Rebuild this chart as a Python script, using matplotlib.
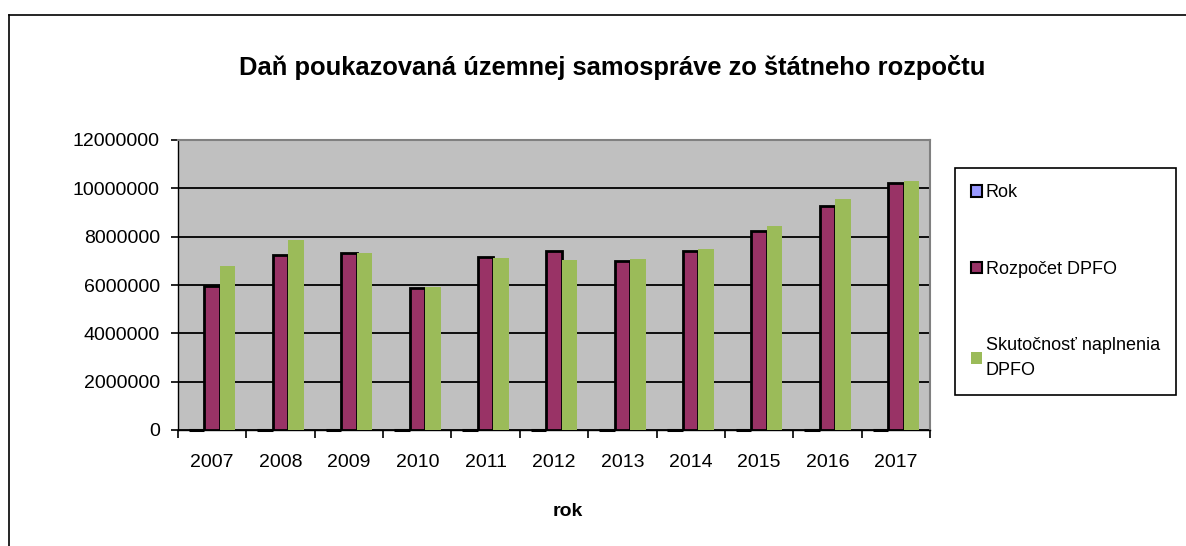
import numpy as np
import matplotlib
matplotlib.use("Agg")
import matplotlib.pyplot as plt
from matplotlib.lines import Line2D
from matplotlib.patches import Patch

plt.rcParams['font.family'] = ['Liberation Sans', 'DejaVu Sans']

# Data
roky = ['2007', '2008', '2009', '2010', '2011', '2012', '2013', '2014', '2015', '2016', '2017']
rok = [2007, 2008, 2009, 2010, 2011, 2012, 2013, 2014, 2015, 2016, 2017]
rozpocet = [5950000, 7230000, 7340000, 5880000, 7170000, 7390000, 6990000, 7390000, 8230000, 9270000, 10220000]
skutocnost = [6800000, 7850000, 7320000, 5920000, 7100000, 7030000, 7090000, 7500000, 8430000, 9540000, 10310000]

W, H = 1186, 546
fig = plt.figure(figsize=(W / 100, H / 100), dpi=100)
ax = fig.add_axes([178 / W, 1 - 430 / H, (930 - 178) / W, (430 - 140) / H])

x = np.arange(len(roky))
w = 0.227
ax.set_facecolor('#c0c0c0')
ax.bar(x - w, rok, w, color='#9999ff', edgecolor='black', linewidth=2.2, zorder=3, clip_on=False)
ax.bar(x, rozpocet, w, color='#993366', edgecolor='black', linewidth=2, zorder=3)
ax.bar(x + w, skutocnost, w, color='#9bbb59', linewidth=0, zorder=3)

ax.set_xlim(-0.5, len(roky) - 0.5)
ax.set_ylim(0, 12000000)
ax.set_yticks(np.arange(0, 12000001, 2000000))
ax.set_yticklabels([str(v) for v in range(0, 12000001, 2000000)])
ax.yaxis.grid(True, color='black', linewidth=1.3, zorder=1)

# category ticks between groups, labels in centre
ax.set_xticks(np.arange(-0.5, len(roky), 1))
ax.set_xticklabels([])
ax.set_xticks(x, minor=True)
ax.set_xticklabels(roky, minor=True)
ax.tick_params(axis='x', which='major', direction='out', length=6, width=1.2, color='black')
ax.tick_params(axis='x', which='minor', length=0, pad=17, labelsize=14)
ax.tick_params(axis='y', direction='out', length=5, width=1.2, pad=8, labelsize=14)

for s in ['top', 'right']:
    ax.spines[s].set_color('#808080')
    ax.spines[s].set_linewidth(1.5)
for s in ['left', 'bottom']:
    ax.spines[s].set_color('black')
    ax.spines[s].set_linewidth(1.0)

fig.text(612 / W, 1 - 67 / H, 'Daň poukazovaná územnej samospráve zo štátneho rozpočtu',
         ha='center', va='center', fontsize=18.4, fontweight='bold')
fig.text(568 / W, 1 - 512 / H, 'rok', ha='center', va='center', fontsize=14, fontweight='bold')

# outer chart border (cropped)
fig.add_artist(Line2D([8.5 / W, 1], [1 - 14.5 / H, 1 - 14.5 / H], color='black', linewidth=1.2))
fig.add_artist(Line2D([8.5 / W, 8.5 / W], [0, 1 - 14.5 / H], color='black', linewidth=1.2))

handles = [Patch(facecolor='#9999ff', edgecolor='black', linewidth=1.5),
           Patch(facecolor='#993366', edgecolor='black', linewidth=1.5),
           Patch(facecolor='#9bbb59', linewidth=0)]
labels = ['Rok', 'Rozpočet DPFO', 'Skutočnosť naplnenia\nDPFO']
leg = ax.legend(handles, labels, loc='upper left', bbox_to_anchor=(955 / W, 1 - 168 / H),
                bbox_transform=fig.transFigure, borderaxespad=0, fontsize=13,
                handlelength=0.6, handleheight=0.6, handletextpad=0.2, labelspacing=3.3,
                borderpad=0.9, fancybox=False, edgecolor='black', framealpha=1)
leg.get_frame().set_linewidth(1.2)
leg.get_texts()[2].set_linespacing(1.55)

fig.savefig('out.png', dpi=100)
